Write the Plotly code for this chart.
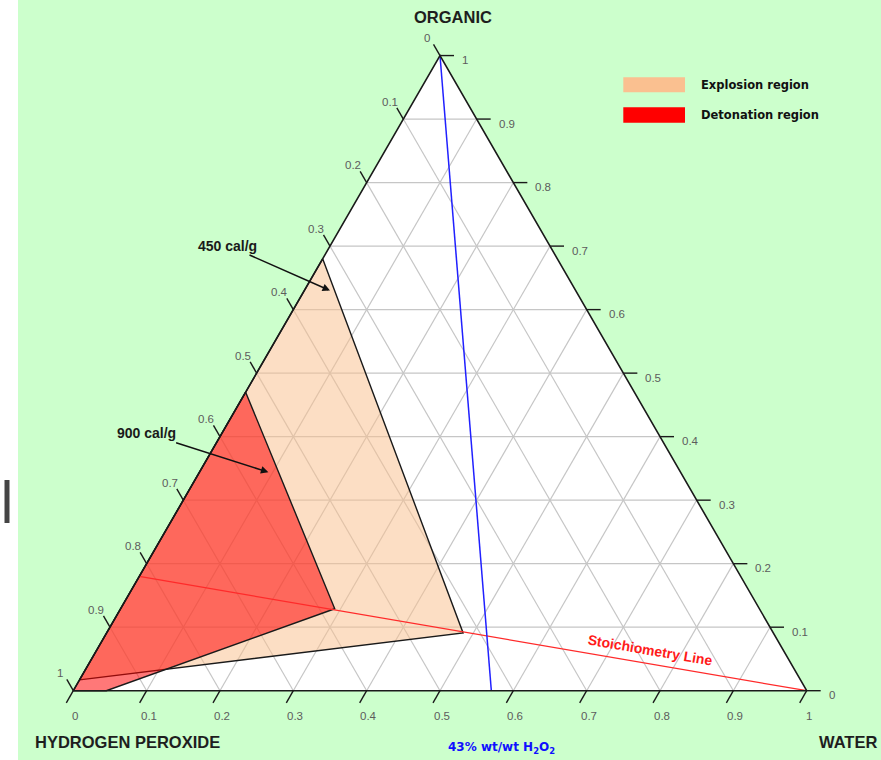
import numpy as np
import plotly.graph_objects as go

# ---- data: ternary compositions given as (organic, water) fractions;
#      hydrogen peroxide = 1 - organic - water
TICK_VALUES = [0, 0.1, 0.2, 0.3, 0.4, 0.5, 0.6, 0.7, 0.8, 0.9, 1]
TICK_LABELS = ["0", "0.1", "0.2", "0.3", "0.4", "0.5", "0.6", "0.7", "0.8", "0.9", "1"]

explosion_organic = [0.68, 0.091, 0.017]
explosion_water = [0.0, 0.486, 0.0]

detonation_organic = [0.47, 0.129, 0.0, 0.0]
detonation_water = [0.0, 0.292, 0.045, 0.0]

stoich_organic = [0.18, 0.0]
stoich_water = [0.0, 1.0]

h2o2_43_organic = [1.0, 0.0]
h2o2_43_water = [0.0, 0.57]

# arrow targets for the two energy callouts
callout_text = ["450 cal/g", "900 cal/g"]
callout_organic = [0.63, 0.344]
callout_water = [0.035, 0.094]

# ---- geometry helpers
S3 = np.sqrt(3) / 2
W, H = 881, 760
K = 733.4                # pixels per unit side length
X0, Y0 = 73.3, 690.7     # pixel position of the pure hydrogen peroxide corner


def to_xy(organic, water):
    o = np.asarray(organic, dtype=float)
    w = np.asarray(water, dtype=float)
    return w + o / 2, o * S3


def pp(x, y):
    """pixel position -> paper coordinates (for page decorations)"""
    return x / W, 1 - y / H


GREEN = "rgb(204,255,204)"
GRID = "rgb(198,198,198)"
EDGE = "#1a1a1a"
TICKFONT = dict(family="Liberation Sans", size=11.5, color="#5c5c5c")

fig = go.Figure()

# white triangle area
tx, ty = to_xy([0, 0, 1, 0], [0, 1, 0, 0])
fig.add_trace(go.Scatter(x=tx, y=ty, mode="lines", fill="toself",
                         fillcolor="white", line=dict(width=0), hoverinfo="skip"))

# grid lines every 0.1 for the three components
gx, gy = [], []
for v in TICK_VALUES[1:-1]:
    # constant organic
    x, y = to_xy([v, v], [0, 1 - v])
    gx += list(x) + [None]; gy += list(y) + [None]
    # constant water
    x, y = to_xy([0, 1 - v], [v, v])
    gx += list(x) + [None]; gy += list(y) + [None]
    # constant hydrogen peroxide
    x, y = to_xy([0, 1 - v], [1 - v, 0])
    gx += list(x) + [None]; gy += list(y) + [None]
fig.add_trace(go.Scatter(x=gx, y=gy, mode="lines", line=dict(color=GRID, width=1.2),
                         hoverinfo="skip"))

# explosion and detonation regions
ex, ey = to_xy(explosion_organic + explosion_organic[:1], explosion_water + explosion_water[:1])
fig.add_trace(go.Scatter(x=ex, y=ey, mode="lines", fill="toself",
                         fillcolor="rgba(250,192,144,0.53)",
                         line=dict(color=EDGE, width=1.4), name="Explosion region"))
dx, dy = to_xy(detonation_organic + detonation_organic[:1], detonation_water + detonation_water[:1])
fig.add_trace(go.Scatter(x=dx, y=dy, mode="lines", fill="toself",
                         fillcolor="rgba(255,0,0,0.53)",
                         line=dict(color=EDGE, width=1.4), name="Detonation region"))

# stoichiometry line and 43 % wt/wt H2O2 line
sx, sy = to_xy(stoich_organic, stoich_water)
fig.add_trace(go.Scatter(x=sx, y=sy, mode="lines", line=dict(color="#ff2a2a", width=1.2),
                         hoverinfo="skip"))
bx, by = to_xy(h2o2_43_organic, h2o2_43_water)
fig.add_trace(go.Scatter(x=bx, y=by, mode="lines", line=dict(color="#2020ff", width=1.5),
                         hoverinfo="skip"))

# triangle outline
fig.add_trace(go.Scatter(x=tx, y=ty, mode="lines", line=dict(color=EDGE, width=1.6),
                         hoverinfo="skip"))

# ticks and tick labels
TL_LEFT, TL_BOTTOM, TL_RIGHT = 13 / K, 14 / K, 14 / K
kx, ky = [], []
annotations = []
for v, lab in zip(TICK_VALUES, TICK_LABELS):
    # left side: hydrogen peroxide fraction (0 at top, 1 at bottom-left)
    x, y = to_xy(1 - v, 0)
    xe, ye = x - 0.5 * TL_LEFT, y + S3 * TL_LEFT
    kx += [x, xe, None]; ky += [y, ye, None]
    annotations.append(dict(x=xe, y=ye, text=lab, showarrow=False, xanchor="center",
                            yanchor="middle", xshift=-7, yshift=6, font=TICKFONT))
    # bottom: water fraction (0 at left, 1 at right)
    x, y = to_xy(0, v)
    xe, ye = x - 0.5 * TL_BOTTOM, y - S3 * TL_BOTTOM
    kx += [x, xe, None]; ky += [y, ye, None]
    annotations.append(dict(x=x, y=y, text=lab, showarrow=False, xanchor="center",
                            yanchor="middle", xshift=2, yshift=-25, font=TICKFONT))
    # right side: organic fraction (0 at bottom, 1 at top)
    x, y = to_xy(v, 1 - v)
    xe, ye = x + TL_RIGHT, y
    kx += [x, xe, None]; ky += [y, ye, None]
    annotations.append(dict(x=xe, y=ye, text=lab, showarrow=False, xanchor="left",
                            yanchor="middle", xshift=6, yshift=-4.5, font=TICKFONT))
fig.add_trace(go.Scatter(x=kx, y=ky, mode="lines", line=dict(color=EDGE, width=1.4),
                         hoverinfo="skip"))

# energy callouts with arrows
cx, cy = to_xy(callout_organic, callout_water)
offsets = [(-102, -45), (-122, -39)]
for t, x, y, (ax, ay) in zip(callout_text, cx, cy, offsets):
    annotations.append(dict(x=x, y=y, ax=ax, ay=ay, text="<b>" + t + "</b>",
                            showarrow=True, arrowhead=2, arrowsize=1, arrowwidth=1.5,
                            arrowcolor="#111", font=dict(family="Liberation Sans", size=14,
                                                         color="#1a1a1a")))

# stoichiometry label along the line
angle = np.degrees(np.arctan2(sy[0] - sy[1], sx[1] - sx[0]))
lw = 0.762
lx, ly = to_xy(stoich_organic[0] * (1 - lw), lw)
annotations.append(dict(x=lx, y=ly, text="<b>Stoichiometry Line</b>", showarrow=False,
                        textangle=angle, xshift=2, yshift=13,
                        font=dict(family="Liberation Sans", size=14, color="#ff1a1a")))

# corner titles
TITLEFONT = dict(family="Liberation Sans", size=16.5, color="#1e1e1e")
for txt, (px, py) in [("ORGANIC", (452.5, 17.5)), ("HYDROGEN PEROXIDE", (127, 742)),
                      ("WATER", (847.5, 742))]:
    x, y = pp(px, py)
    annotations.append(dict(x=x, y=y, xref="paper", yref="paper", text="<b>" + txt + "</b>",
                            showarrow=False, xanchor="center", yanchor="middle", font=TITLEFONT))

x, y = pp(501.7, 748.3)
annotations.append(dict(x=x, y=y, xref="paper", yref="paper",
                        text="<b>43% wt/wt H<sub>2</sub>O<sub>2</sub></b>", showarrow=False,
                        xanchor="center", yanchor="middle",
                        font=dict(family="DejaVu Sans", size=12, color="#1010ff")))

# legend
shapes = []
for (y0, y1), col, txt in [((77.3, 92.3), "rgb(250,192,144)", "Explosion region"),
                           ((107.3, 122.7), "rgb(255,0,0)", "Detonation region")]:
    a0, b0 = pp(623.3, y0)
    a1, b1 = pp(685, y1)
    shapes.append(dict(type="rect", xref="paper", yref="paper", x0=a0, x1=a1, y0=b1, y1=b0,
                       fillcolor=col, line=dict(width=0)))
    tx_, ty_ = pp(699, (y0 + y1) / 2)
    annotations.append(dict(x=tx_, y=ty_, xref="paper", yref="paper", text="<b>" + txt + "</b>",
                            showarrow=False, xanchor="left", yanchor="middle",
                            font=dict(family="DejaVu Sans", size=11.5, color="#111")))

# white strip at the left of the page
a0, _ = pp(0, 0)
a1, _ = pp(18, 0)
shapes.append(dict(type="rect", xref="paper", yref="paper", x0=a0, x1=a1, y0=0, y1=1,
                   fillcolor="white", line=dict(width=0), layer="below"))
a0, b0 = pp(4.5, 480)
a1, b1 = pp(9.5, 523)
shapes.append(dict(type="rect", xref="paper", yref="paper", x0=a0, x1=a1, y0=b1, y1=b0,
                   fillcolor="#444", line=dict(width=0), layer="below"))

fig.update_layout(
    width=W, height=H, autosize=False,
    margin=dict(l=0, r=0, t=0, b=0),
    paper_bgcolor=GREEN, plot_bgcolor=GREEN,
    showlegend=False,
    xaxis=dict(range=[-X0 / K, (W - X0) / K], visible=False, fixedrange=True),
    yaxis=dict(range=[-(H - Y0) / K, Y0 / K], visible=False, fixedrange=True),
    annotations=annotations,
    shapes=shapes,
)

fig.write_html("out.html", config={"displayModeBar": False})
